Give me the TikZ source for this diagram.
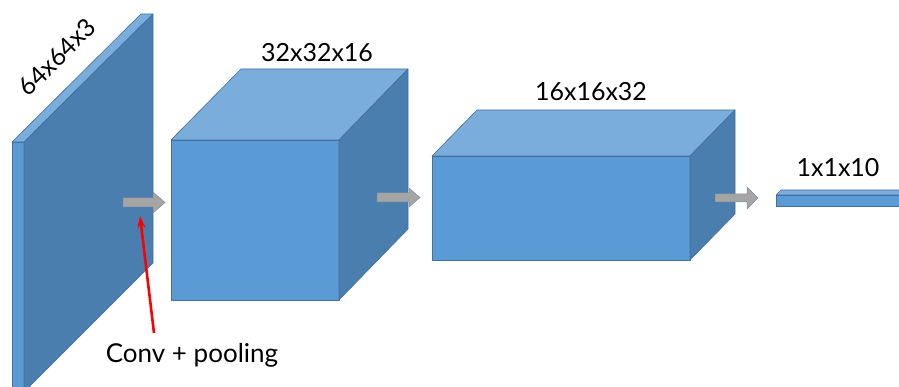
\documentclass[tikz,border=0pt]{standalone}
\usepackage{fontspec}
\setmainfont{Lato}
\usetikzlibrary{arrows.meta}
\definecolor{frontc}{HTML}{5B9BD5}
\definecolor{topc}{HTML}{7BADDC}
\definecolor{sidec}{HTML}{4A7EAE}
\definecolor{edgec}{HTML}{41719C}
\definecolor{arrowfill}{HTML}{A5A5A5}
\definecolor{arrowedge}{HTML}{7F8FA0}
\tikzset{
  face/.style={draw=edgec, line width=0.6pt, line join=round},
  frontface/.style={face, fill=frontc},
  topface/.style={face, fill=topc},
  sideface/.style={face, fill=sidec},
  blockarrow/.style={fill=arrowfill, draw=arrowedge, line width=0.5pt},
  dimlabel/.style={font=\fontsize{25}{30}\selectfont, inner sep=0pt},
  convlabel/.style={font=\fontsize{26}{31}\selectfont, inner sep=0pt},
  redarrow/.style={draw=red, line width=2.6pt, -{Stealth[length=12pt,width=8pt]}}
}
\begin{document}
\begin{tikzpicture}[x=1pt,y=-1pt]
\useasboundingbox (0,0) rectangle (899,387);
\begin{scope}
\clip (0,0) rectangle (899,387);
% input slab 64x64x3
\draw[frontface] (12,142) -- (24,142) -- (24,400) -- (12,400) -- cycle;
\draw[topface] (12,142) -- (141,14) -- (153,14) -- (24,142) -- cycle;
\draw[sideface] (24,142) -- (153,14) -- (153,263) -- (24,392) -- cycle;
% cube 32x32x16
\draw[frontface] (171,140) rectangle (339,300);
\draw[topface] (171,140) -- (241,69) -- (408,69) -- (339,140) -- cycle;
\draw[sideface] (339,140) -- (408,69) -- (408,229) -- (339,300) -- cycle;
% cube 16x16x32
\draw[frontface] (432,156) rectangle (690,260);
\draw[topface] (432,156) -- (477,110) -- (735,110) -- (690,156) -- cycle;
\draw[sideface] (690,156) -- (735,110) -- (735,214) -- (690,260) -- cycle;
% output 1x1x10
\draw[frontface] (776,195) rectangle (905,206);
\draw[topface] (776,195) -- (781,190) -- (910,190) -- (905,195) -- cycle;
% gray arrows
\draw[blockarrow] (123,198) -- (153,198) -- (153,192) -- (165,202.5) -- (153,213) -- (153,207) -- (123,207) -- cycle;
\draw[blockarrow] (377,193) -- (409,193) -- (409,188) -- (420,197.5) -- (409,207) -- (409,202) -- (377,202) -- cycle;
\draw[blockarrow] (715,194) -- (747,194) -- (747,187) -- (758,198) -- (747,209) -- (747,202) -- (715,202) -- cycle;
\end{scope}
% labels
\node[dimlabel, rotate=45] (l1) at (57,57) {64x64x3};
\node[dimlabel] (l2) at (317,53) {32x32x16};
\node[dimlabel] (l3) at (591,92) {16x16x32};
\node[dimlabel] (l4) at (838,168) {1x1x10};
\node[convlabel] (conv) at (192,355) {Conv + pooling};
\coordinate (rtail) at (154,333);
\coordinate (rtip) at (140,216);
\draw[redarrow] (rtail) -- (rtip);
\end{tikzpicture}
\end{document}
